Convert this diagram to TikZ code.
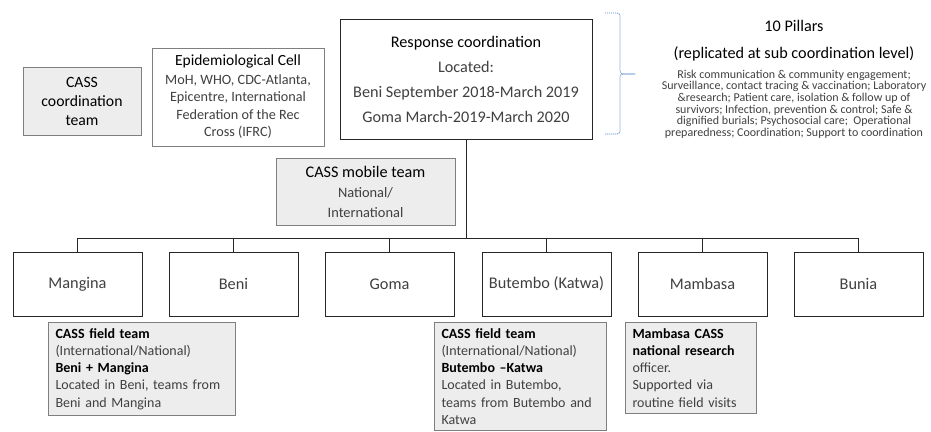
\documentclass[tikz,border=0pt]{standalone}
\usepackage{fontspec}
\setmainfont{Carlito}
\definecolor{txtgray}{HTML}{404040}
\definecolor{boxgray}{HTML}{EDEDED}
\definecolor{bordgray}{HTML}{7F7F7F}
\definecolor{braceblue}{HTML}{5B8BD0}
\newcommand{\fs}[2]{\fontsize{#1}{#2}\selectfont}
\tikzset{
  graybox/.style={draw=bordgray, fill=boxgray, line width=1pt, inner sep=0pt, align=center},
  whitebox/.style={draw=bordgray, fill=white, line width=1pt, inner sep=0pt, align=center},
  mainbox/.style={draw=black!85, fill=white, line width=1pt, inner sep=0pt, align=center},
  sitebox/.style={draw=black!85, fill=white, line width=1pt, inner sep=0pt,
    minimum width=129pt, minimum height=64pt, font=\fs{16.3}{18}, text=txtgray},
  fieldbox/.style={draw=bordgray, fill=boxgray, line width=1pt, anchor=north west,
    inner xsep=7pt, inner ysep=6pt, align=left, font=\fs{14}{17.2}, text=txtgray},
  conn/.style={draw=black!85, line width=1pt},
  bracestyle/.style={draw=braceblue, line width=0.7pt, dash pattern=on 1.2pt off 0.8pt, rounded corners=3pt},
}
\begin{document}
\begin{tikzpicture}[x=1pt,y=-1pt]
\useasboundingbox (0,0) rectangle (931,431);

% top row
\node[graybox, minimum width=118pt, minimum height=68pt, font=\fs{15.7}{19}] (coord) at (82,101)
  {CASS\\coordination\\team};
\node[whitebox, minimum width=172pt, minimum height=98pt, font=\fs{14.2}{17.5}, text=txtgray] (epi) at (238,97)
  {{\fs{15.5}{17.5}\color{black}Epidemiological Cell}\\[1pt]MoH, WHO, CDC-Atlanta,\\Epicentre, International\\Federation of the Rec\\Cross (IFRC)};
\node[mainbox, minimum width=252pt, minimum height=120pt, font=\fs{16.2}{25}, text=txtgray] (resp) at (466,79)
  {{\color{black}Response coordination}\\Located:\\Beni September 2018-March 2019\\Goma March-2019-March 2020};

% brace and pillars
\coordinate (bt) at (605,13);
\coordinate (bm) at (620,74);
\coordinate (btip) at (635,74);
\coordinate (bb) at (605,134);
\path[bracestyle] (bt) -| (bm) -- (btip);
\path[bracestyle] (btip) -- (bm) |- (bb);
\node[align=center, font=\fs{16.2}{27}, inner sep=0pt] (pillars) at (794,40.5)
  {10 Pillars\\(replicated at sub coordination level)};
\node[align=center, font=\fs{12}{11.7}, text=txtgray, inner sep=0pt, anchor=north] (pillarlist) at (794,69.5)
  {Risk communication \& community engagement;\\
   Surveillance, contact tracing \& vaccination; Laboratory\\
   \&research; Patient care, isolation \& follow up of\\
   survivors; Infection, prevention \& control; Safe \&\\
   dignified burials; Psychosocial care;\ \ Operational\\
   preparedness; Coordination; Support to coordination};

% mobile team
\node[graybox, minimum width=179pt, minimum height=67pt, font=\fs{14.4}{20}, text=txtgray] (mobile) at (365.5,191.5)
  {{\fs{16.2}{20}\color{black}CASS mobile team}\\National/\\International};

% sites
\node[sitebox] (mangina) at (77.5,284) {Mangina};
\node[sitebox] (beni) at (233.5,284) {Beni};
\node[sitebox] (goma) at (389.5,284) {Goma};
\node[sitebox] (butembo) at (546.5,284) {Butembo (Katwa)};
\node[sitebox] (mambasa) at (702.5,284) {Mambasa};
\node[sitebox] (bunia) at (858.5,284) {Bunia};

% connectors
\coordinate (bus) at (0,238);
\draw[conn] (resp.south) -- (resp.south |- bus);
\draw[conn] (mangina.north |- bus) -- (bunia.north |- bus);
\foreach \n in {mangina,beni,goma,butembo,mambasa,bunia}
  \draw[conn] (\n.north |- bus) -- (\n.north);

% field teams
\node[fieldbox, text width=173pt] (fmangina) at (48,322)
  {{\bfseries\color{black}CASS field team}\\(International/National)\\{\bfseries\color{black}Beni + Mangina}\\Located in Beni, teams from\\Beni and Mangina};
\node[fieldbox, text width=158pt] (fbutembo) at (434,322)
  {{\bfseries\color{black}CASS field team}\\(International/National)\\{\bfseries\color{black}Butembo --Katwa}\\Located in Butembo,\\teams from Butembo and\\Katwa};
\node[fieldbox, text width=117pt] (fmambasa) at (625,322)
  {{\bfseries\color{black}Mambasa CASS}\\{\bfseries\color{black}national research}\\officer.\\Supported via\\routine field visits};
\end{tikzpicture}
\end{document}
